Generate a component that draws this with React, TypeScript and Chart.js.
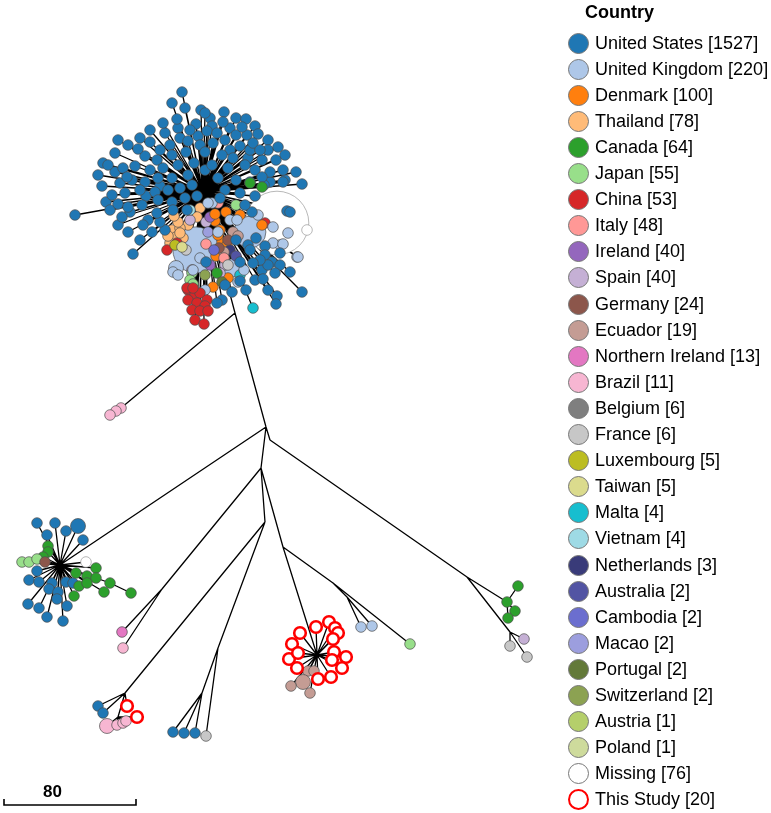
import React, { useEffect, useRef } from "react";
import Chart from "chart.js/auto";

const countries = ["United States","United Kingdom","Denmark","Thailand","Canada","Japan","China","Italy","Ireland","Spain","Germany","Ecuador","Northern Ireland","Brazil","Belgium","France","Luxembourg","Taiwan","Malta","Vietnam","Netherlands","Australia","Cambodia","Macao","Portugal","Switzerland","Austria","Poland","Missing","This Study"];
const countryCounts = [1527,220,100,78,64,55,53,48,40,40,24,19,13,11,6,6,5,5,4,4,3,2,2,2,2,2,1,1,76,20];
const palette = ["#1f77b4","#aec7e8","#ff7f0e","#ffbb78","#2ca02c","#98df8a","#d62728","#ff9896","#9467bd","#c5b0d5","#8c564b","#c49c94","#e377c2","#f7b6d2","#7f7f7f","#c7c7c7","#bcbd22","#dbdb8d","#17becf","#9edae5","#393b79","#5254a3","#6b6ecf","#9c9ede","#637939","#8ca252","#b5cf6b","#cedb9c","#ffffff","#ffffff"];

type Leaf = [number, number, number, number?];

// internal (branching) points of the tree
const hubs: [string, number, number][] = [
  ["core",203,192],["t1",235,313],["brz",121,408],["A",266,427],["L",60,565],["Lg",110,583],
  ["B",261,468],["C",270,440],["D",467,577],["Dg",507,602],["D2",510,632],["P",162,589],
  ["E",265,522],["F",283,547],["G",333,583],["G2",347,597],["H",125,693],["H2",118,717],
  ["K",218,648],["K2",202,693],["RC",317,655]
];
const branches: [string, string][] = [
  ["core","t1"],["t1","brz"],["t1","A"],["A","L"],["A","B"],["A","C"],["C","D"],["D","Dg"],["D","D2"],
  ["B","P"],["B","E"],["B","F"],["E","H"],["H","H2"],["E","K"],["K","K2"],["F","RC"],["F","G"],["G","G2"],["L","Lg"]
];

const coreNodes: Leaf[] = [
  [277,223,28,36],[196,250,1,19],[250,232,1,9],[232,268,1,3],[176,268,1,2],
  [172,230,3],[176,237,3],[170,243,3],[200,208,3],[197,217,3],[188,225,3],[180,228,3],[183,238,3],[178,222,3],[168,236,3],[174,216,3],
  [167,250,6],[177,243,6],[265,223,6],
  [215,221,2],[220,230,2],[222,242,2],[227,245,2],[218,235,2],[232,238,2],[262,225,2],[226,212,2],[213,287,2],[228,278,2],[240,215,2],[216,256,2],
  [190,220,9],[225,265,9],[192,270,9],[220,273,9],[206,222,9],
  [210,217,8],[210,265,8],[230,250,20],[236,256,21],
  [233,232,11],[238,236,11],[224,252,11],[228,240,10],[219,248,10],
  [218,203,7],[224,258,7],[206,244,7],[228,265,15],[186,250,15],
  [190,210,19],[240,275,18],[192,273,5],[190,280,5],[193,284,5],[236,205,5],[217,273,4],
  [175,245,16],[182,247,17],[214,250,22],[208,232,23],[222,282,24],[205,275,25],
  [212,203,1],[230,220,1],[218,232,1],[237,220,1],[173,272,1],[178,275,1],[193,270,1],[238,282,1],[273,227,1],[280,245,1],
  [273,243,1],[297,257,1],[208,203,1],[288,233,1],[283,244,1],[200,258,1],[244,270,1],[258,215,1],[205,290,1],
  [307,230,28],
  [188,290,6],[195,295,6],[200,293,6],[207,300,6],[188,300,6],[197,303,6],[205,306,6],[192,310,6],[200,311,6],[208,311,6],[187,288,6],[193,288,6],[195,320,6],[204,324,6],
  [150,130,0],[165,133,0],[140,138,0],[178,128,0],[210,118,0],[236,118,0],[255,126,0],[268,140,0],[285,155,0],[296,172,0],
  [98,175,0],[102,186,0],[106,202,0],[118,225,0],[128,232,0],[140,240,0],[152,232,0],[165,230,0],
  [115,172,0],[146,196,0],[160,186,0],[230,150,0],[248,158,0],[205,170,0],[192,185,0],
  [252,212,0],[285,180,0],[270,182,0],[255,280,0],[246,290,0],[268,290,0],
  [196,124,0],[212,126,0],[230,128,0],[236,135,0],[198,136,0],[225,140,0],[247,135,0],[258,134,0],
  [170,145,0],[180,138,0],[200,145,0],[213,143,0],[240,146,0],[250,150,0],[268,150,0],[160,150,0],
  [145,156,0],[157,160,0],[172,155,0],[186,152,0],[205,152,0],[222,155,0],[233,158,0],[262,160,0],[276,160,0],
  [135,166,0],[150,170,0],[163,168,0],[178,165,0],[194,163,0],[212,165,0],[228,168,0],[245,165,0],[255,170,0],[270,172,0],[283,170,0],
  [120,183,0],[132,180,0],[145,182,0],[158,178,0],[172,178,0],[188,175,0],[218,178,0],[236,180,0],[250,182,0],[264,185,0],
  [112,195,0],[125,193,0],[140,190,0],[155,192,0],[168,190,0],[180,188,0],[225,190,0],[240,193,0],[255,196,0],
  [110,210,0],[130,212,0],[142,205,0],[158,200,0],[172,202,0],[185,198,0],[197,196,0],[220,198,0],[245,205,0],
  [148,220,0],[160,222,0],[173,210,0],[187,210,0],
  [236,240,0],[248,245,0],[256,238,0],[265,246,0],[265,255,0],[272,262,0],[262,270,0],[280,265,0],[290,272,0],[250,250,0],[240,262,0],
  [206,262,0],[225,285,0],[232,292,0],[222,300,0],[240,281,0],
  [182,92,0],[172,103,0],[185,108,0],[201,110,0],[205,113,0],[224,112,0],[163,123,0],[177,119,0],[223,122,0],[246,119,0],
  [242,127,0],[207,131,0],[217,133,0],[190,130,0],[188,141,0],[118,140,0],[128,145,0],[150,142,0],[138,149,0],[115,153,0],
  [103,163,0],[108,165,0],[123,168,0],[127,177,0],[278,147,0],[253,143,0],[260,150,0],[302,184,0],[283,182,0],[262,177,0],
  [75,215,0],[118,204,0],[128,207,0],[122,217,0],[143,225,0],[133,254,0],[157,213,0],[287,211,0],[290,212,0],[298,257,1],
  [302,292,0],[275,273,0],[277,296,0],[276,304,0],[217,303,0],[263,279,0],[268,265,0],[280,253,0],[260,260,0],[253,263,0],
  [253,308,18],[262,187,4],[250,183,4],[180,233,3],[215,214,2]
];
const brazilNodes: Leaf[] = [[121,408,13],[116,411,13],[110,415,13]];
const leftNodes: Leaf[] = [
  [37,523,0],[55,523,0],[78,526,0,2],[47,535,0],[66,531,0],[83,540,0],[37,571,0],[29,580,0],[39,582,0],[52,583,0],
  [49,589,0],[58,592,0],[66,582,0],[73,583,0],[28,604,0],[39,608,0],[57,599,0],[67,606,0],[47,617,0],[63,621,0],
  [48,546,4],[48,552,4],[43,557,4],[76,573,4],[96,568,4],[87,576,4],[96,578,4],[79,586,4],[87,583,4],[74,596,4],[110,583,4],[104,592,4],
  [22,562,5],[29,562,5],[37,559,5],[45,562,10],[86,562,28]
];
const leftChain: Leaf[] = [[131,593,4]];
const pNodes: Leaf[] = [[122,632,12],[123,648,13]];
const hNodes: Leaf[] = [[98,706,0],[103,713,0],[127,706,29]];
const h2Nodes: Leaf[] = [[107,726,13,2],[117,725,13],[123,723,13],[126,721,13],[137,717,29]];
const kNodes: Leaf[] = [[206,736,15]];
const k2Nodes: Leaf[] = [[173,732,0],[184,733,0],[195,733,0]];
const rcNodes: Leaf[] = [
  [308,671,11],[314,671,11],[303,682,11,2],[291,686,11],[310,693,11],
  [300,633,29],[292,644,29],[289,659,29],[298,653,29],[297,668,29],[316,627,29],[329,622,29],[335,628,29],[338,633,29],
  [333,639,29],[334,652,29],[346,657,29],[332,660,29],[342,668,29],[331,677,29],[318,679,29]
];
const gNodes: Leaf[] = [[410,644,5]];
const g2Nodes: Leaf[] = [[361,627,1],[372,626,1]];
const dgNodes: Leaf[] = [[507,602,4],[518,586,4],[515,611,4],[508,618,4]];
const d2Nodes: Leaf[] = [[510,646,15],[524,639,9],[527,657,15]];

const groups: [string, Leaf[]][] = [
  ["core", coreNodes],["brz", brazilNodes],["L", leftNodes],["Lg", leftChain],["P", pNodes],["H", hNodes],["H2", h2Nodes],
  ["K", kNodes],["K2", k2Nodes],["RC", rcNodes],["G", gNodes],["G2", g2Nodes],["Dg", dgNodes],["D2", d2Nodes]
];

const scaleBar: [number, number][] = [[4,799],[4,805],[136,805],[136,799]];
const scaleLabel = "80";

export default function App() {
  const ref = useRef<HTMLCanvasElement>(null);
  useEffect(() => {
    document.body.style.margin = "0";
    const hubMap = new Map<string, [number, number]>(hubs.map(h => [h[0], [h[1], h[2]]]));
    const gap = { x: NaN, y: NaN };
    const edgeData: any[] = [];
    for (const [a, b] of branches) {
      const p = hubMap.get(a)!, q = hubMap.get(b)!;
      edgeData.push({ x: p[0], y: p[1] }, { x: q[0], y: q[1] }, gap);
    }
    const nodeData: any[] = [], bg: string[] = [], bc: string[] = [], rad: number[] = [], bw: number[] = [];
    for (const [parent, list] of groups) {
      const p = hubMap.get(parent)!;
      for (const l of list) {
        edgeData.push({ x: p[0], y: p[1] }, { x: l[0], y: l[1] }, gap);
        const c = l[2], n = l[3] || 1;
        nodeData.push({ x: l[0], y: l[1] });
        bg.push(palette[c]);
        bc.push(c === 29 ? "#ff0000" : c === 28 ? "#999999" : "#4d4d4d");
        rad.push(c === 29 ? 5.8 : 5.3 * Math.sqrt(n));
        bw.push(c === 29 ? 2.6 : 0.7);
      }
    }
    const chart = new Chart(ref.current!, {
      type: "scatter",
      data: {
        datasets: [
          { label: "scale", data: scaleBar.map(s => ({ x: s[0], y: s[1] })), showLine: true, borderColor: "#000", borderWidth: 1.6, pointRadius: 0, order: 0 } as any,
          { label: "nodes", data: nodeData, pointBackgroundColor: bg, pointBorderColor: bc, pointRadius: rad, pointHoverRadius: rad, pointBorderWidth: bw, showLine: false, order: 1, clip: false } as any,
          { label: "edges", data: edgeData, showLine: true, spanGaps: false, borderColor: "#000", borderWidth: 1.3, pointRadius: 0, order: 2 } as any,
        ],
      },
      options: {
        animation: false,
        responsive: false,
        events: [],
        layout: { padding: 0, autoPadding: false },
        plugins: { legend: { display: false }, tooltip: { enabled: false } },
        scales: {
          x: { type: "linear", display: false, min: 0, max: 771 },
          y: { type: "linear", display: false, min: 0, max: 813, reverse: true },
        },
      },
    } as any);
    return () => chart.destroy();
  }, []);

  const font = "'Liberation Sans', Arial, Helvetica, sans-serif";
  return (
    <div style={{ position: "relative", width: 771, height: 813, fontFamily: font, color: "#000", background: "#fff" }}>
      <canvas ref={ref} width={771} height={813} style={{ position: "absolute", left: 0, top: 0 }} />
      <div style={{ position: "absolute", left: 585, top: 2, fontSize: 18, lineHeight: "20px", fontWeight: "bold" }}>Country</div>
      {countries.map((c, i) => (
        <div key={c} style={{ position: "absolute", left: 568, top: 43 + i * 26.1 - 12, height: 24, display: "flex", alignItems: "center", whiteSpace: "nowrap", fontSize: 18 }}>
          <span style={{ display: "inline-block", width: 21, height: 21, boxSizing: "border-box", borderRadius: "50%", background: palette[i], border: i === 29 ? "2.5px solid #ff0000" : "1px solid #777" }} />
          <span style={{ marginLeft: 6 }}>{c} [{countryCounts[i]}]</span>
        </div>
      ))}
      <div style={{ position: "absolute", left: 43, top: 782, fontSize: 17, lineHeight: "20px", fontWeight: "bold" }}>{scaleLabel}</div>
    </div>
  );
}
